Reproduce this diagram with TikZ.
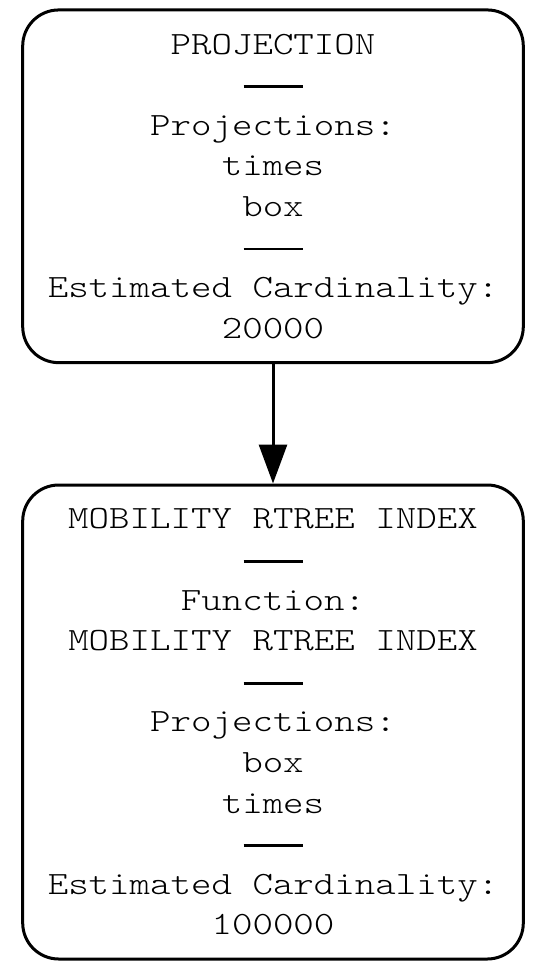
\documentclass[tikz,border=0pt]{standalone}
\usepackage{fontspec}
\newfontfamily\plfont[FakeStretch=1.2]{Latin Modern Mono Light}
\usetikzlibrary{arrows.meta}
\newcommand\sepbar{\rule[6.7pt]{59pt}{2.6pt}}
\begin{document}
\begin{tikzpicture}[x=1pt,y=1pt,
  planbox/.style={draw=black, line width=3pt, rounded corners=36pt, inner sep=0pt,
    minimum width=500.6pt, align=center,
    font=\plfont\fontsize{32.5}{40.6}\selectfont},
  flow/.style={line width=3pt, -{Triangle[length=39pt,width=28pt]}}]
\useasboundingbox (0,0) rectangle (542,-977);
\node[planbox, minimum height=352.7pt] (proj) at (273,-186.3)
  {PROJECTION\\\sepbar\\Projections:\\times\\box\\\sepbar\\Estimated Cardinality:\\20000};
\node[planbox, minimum height=474pt] (idx) at (273,-722)
  {MOBILITY RTREE INDEX\\\sepbar\\Function:\\MOBILITY RTREE INDEX\\\sepbar\\Projections:\\box\\times\\\sepbar\\Estimated Cardinality:\\100000};
\draw[flow] (proj) -- (idx);
\end{tikzpicture}
\end{document}
